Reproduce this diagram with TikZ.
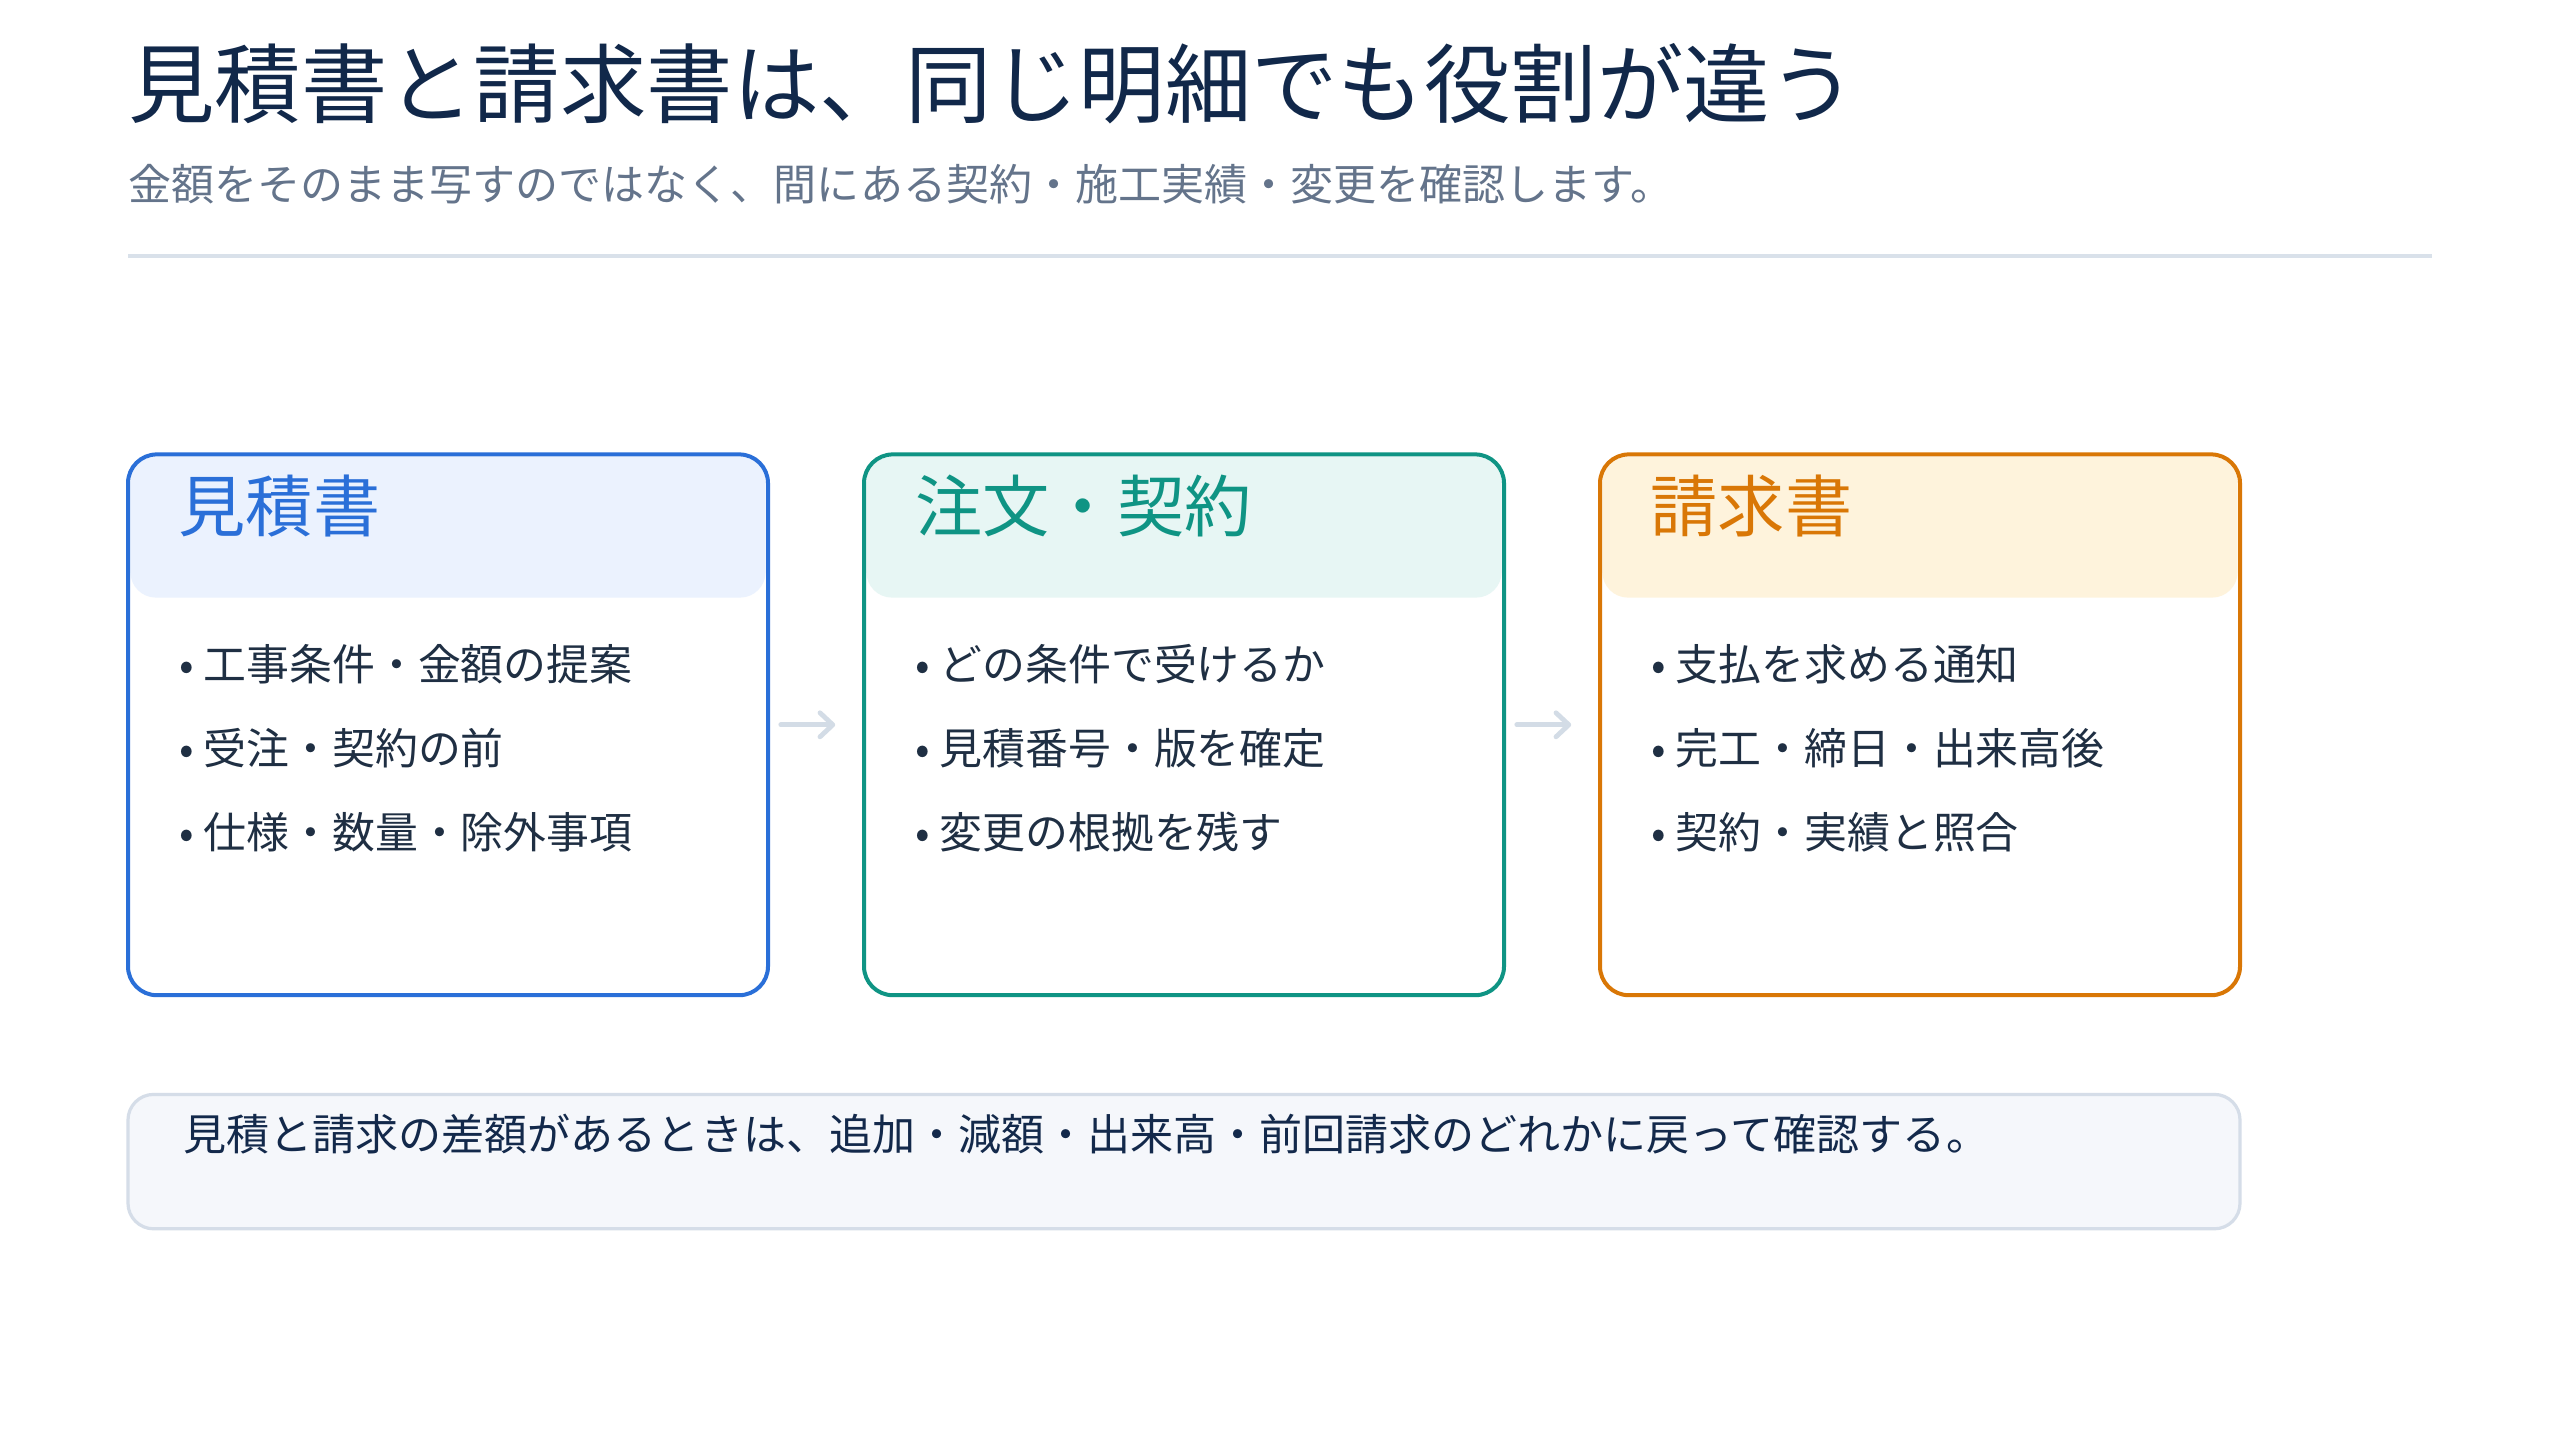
\documentclass[tikz,border=0pt]{standalone}
\usepackage{fontspec}
\setmainfont{Noto Sans CJK JP}
\usetikzlibrary{arrows.meta}
\definecolor{titlecol}{HTML}{11284A}
\definecolor{subcol}{HTML}{64748B}
\definecolor{sepcol}{HTML}{D9E1EA}
\definecolor{bluec}{HTML}{2A6FD8}
\definecolor{bluef}{HTML}{EBF2FE}
\definecolor{tealc}{HTML}{0F9484}
\definecolor{tealf}{HTML}{E7F6F4}
\definecolor{orangec}{HTML}{D97706}
\definecolor{orangef}{HTML}{FEF3DC}
\definecolor{itemcol}{HTML}{1F2F43}
\definecolor{notef}{HTML}{F5F7FB}
\definecolor{noteb}{HTML}{D5DDE8}
\definecolor{notet}{HTML}{13294B}
\definecolor{arrowc}{HTML}{D3DCE6}
\begin{document}
\begin{tikzpicture}[x=1pt,y=-1pt,
  card/.style={minimum width=400pt,minimum height=338pt,inner sep=0pt,outer sep=0pt,draw=none,fill=white},
  cardline/.style={line width=2.5pt,rounded corners=18pt},
  headband/.style={rounded corners=16pt},
  headtxt/.style={anchor=base west,inner sep=0pt,font=\fontsize{42}{48}\selectfont},
  itemtxt/.style={anchor=base west,inner sep=0pt,text=itemcol,font=\fontsize{26.8}{30}\selectfont},
  flow/.style={draw=arrowc,line width=3pt,line cap=round,-{Straight Barb[length=8pt,width=15pt,round]}},
  ]
\fill[white] (0,0) rectangle (1600,900);
\useasboundingbox (0,0) rectangle (1600,900);

% title
\node[anchor=base west,inner sep=0pt,text=titlecol,font=\fontsize{54}{60}\selectfont] (title) at (80,73) {見積書と請求書は、同じ明細でも役割が違う};
\node[anchor=base west,inner sep=0pt,text=subcol,font=\fontsize{26.9}{30}\selectfont] (sub) at (80,125) {金額をそのまま写すのではなく、間にある契約・施工実績・変更を確認します。};
\coordinate (sepL) at (80,160);
\coordinate (sepR) at (1520,160);
\draw[sepcol,line width=2pt] (sepL) -- (sepR);

% cards
\node[card] (b1) at (280,453) {};
\node[card] (b2) at (740,453) {};
\node[card] (b3) at (1200,453) {};

\fill[bluef,headband] (81.5,285.5) rectangle (478.5,373.5);
\fill[tealf,headband] (541.5,285.5) rectangle (938.5,373.5);
\fill[orangef,headband] (1001.5,285.5) rectangle (1398.5,373.5);

\draw[bluec,cardline] (b1.north west) rectangle (b1.south east);
\draw[tealc,cardline] (b2.north west) rectangle (b2.south east);
\draw[orangec,cardline] (b3.north west) rectangle (b3.south east);

\node[headtxt,text=bluec] (h1) at (111.5,332) {見積書};
\node[headtxt,text=tealc] (h2) at (572,332) {注文・契約};
\node[headtxt,text=orangec] (h3) at (1031.5,332) {請求書};

\node[itemtxt] (i11) at (112,425) {• 工事条件・金額の提案};
\node[itemtxt] (i12) at (112,477.5) {• 受注・契約の前};
\node[itemtxt] (i13) at (112,530) {• 仕様・数量・除外事項};

\node[itemtxt] (i21) at (572,425) {• どの条件で受けるか};
\node[itemtxt] (i22) at (572,477.5) {• 見積番号・版を確定};
\node[itemtxt] (i23) at (572,530) {• 変更の根拠を残す};

\node[itemtxt] (i31) at (1032,425) {• 支払を求める通知};
\node[itemtxt] (i32) at (1032,477.5) {• 完工・締日・出来高後};
\node[itemtxt] (i33) at (1032,530) {• 契約・実績と照合};

% arrows
\draw[flow] ([xshift=8pt]b1.east) -- ([xshift=-18pt]b2.west);
\draw[flow] ([xshift=8pt]b2.east) -- ([xshift=-18pt]b3.west);

% note
\node[minimum width=1320pt,minimum height=84pt,inner sep=0pt,outer sep=0pt,fill=notef,draw=noteb,line width=2pt,rounded corners=16pt] (note) at (740,726) {};
\node[anchor=base west,inner sep=0pt,text=notet,font=\fontsize{26.9}{30}\selectfont] (notetxt) at (114.5,719) {見積と請求の差額があるときは、追加・減額・出来高・前回請求のどれかに戻って確認する。};
\end{tikzpicture}
\end{document}
